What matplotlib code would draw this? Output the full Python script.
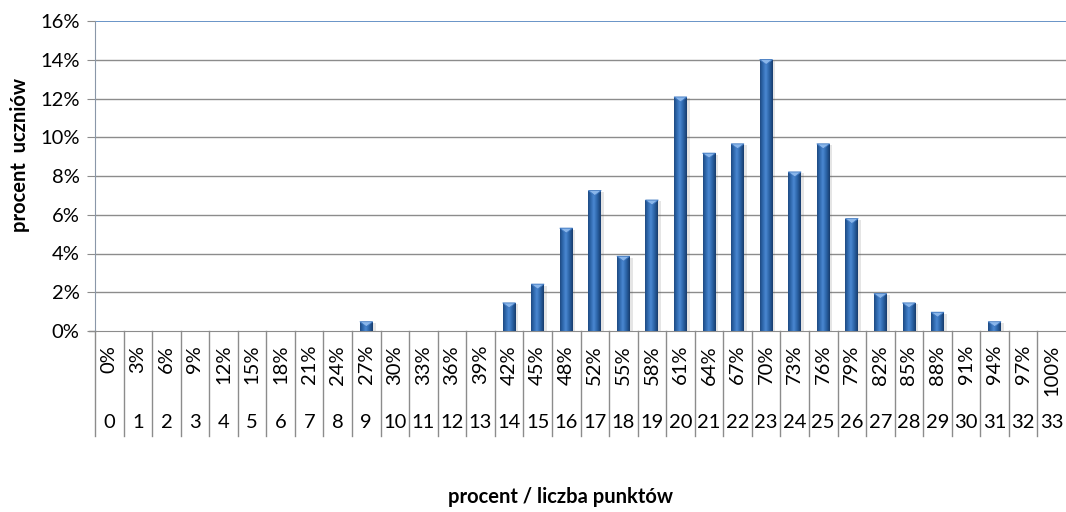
import numpy as np
import matplotlib.pyplot as plt
from matplotlib.patches import Polygon
import matplotlib.patheffects as pe

plt.rcParams['font.family'] = ['Lato', 'DejaVu Sans']

# ── Data ───────────────────────────────────────────────────────
points = list(range(34))
pct_labels = ["0%", "3%", "6%", "9%", "12%", "15%", "18%", "21%", "24%", "27%",
              "30%", "33%", "36%", "39%", "42%", "45%", "48%", "52%", "55%", "58%",
              "61%", "64%", "67%", "70%", "73%", "76%", "79%", "82%", "85%", "88%",
              "91%", "94%", "97%", "100%"]
# share of students (%) for each score
share = [0, 0, 0, 0, 0, 0, 0, 0, 0, 0.48,
         0, 0, 0, 0, 1.45, 2.42, 5.31, 7.25, 3.86, 6.76,
         12.08, 9.18, 9.66, 14.01, 8.21, 9.66, 5.80, 1.93, 1.45, 0.97,
         0, 0.48, 0, 0]
yticks = [0, 2, 4, 6, 8, 10, 12, 14, 16]

FS = 14.5

# ── Figure ─────────────────────────────────────────────────────
W, H = 1066, 512
fig = plt.figure(figsize=(W / 100, H / 100), dpi=100)
ax_l, ax_r, ax_t, ax_b = 95, 1066, 21, 331
ax = fig.add_axes([ax_l / W, 1 - ax_b / H, (ax_r - ax_l) / W, (ax_b - ax_t) / H])

ax.set_xlim(-0.5, len(points) - 0.5)
ax.set_ylim(0, 16)

# gridlines
for y in yticks[1:-1]:
    ax.axhline(y, color='#8c8c8c', lw=1.0, zorder=0)
ax.axhline(16, color='#4f81bd', lw=1.2, zorder=0)

# bars with a horizontal gradient
bw = 0.45
grad = np.linspace(0, 1, 64)
shade = 1 - 0.55 * np.abs(grad - 0.45) * 2
cmap = plt.matplotlib.colors.LinearSegmentedColormap.from_list(
    "bar", ["#173d6e", "#2b63a6", "#4a88d2"])
px_per_unit = (ax_b - ax_t) / 16.0
tri_h = 5.0 / px_per_unit

for x, v in zip(points, share):
    if v <= 0:
        continue
    b = ax.bar(x, v, width=bw, color='#2b63a6', zorder=2,
               path_effects=[pe.SimplePatchShadow(offset=(2, -1), alpha=0.15,
                                                  shadow_rgbFace='#555555'),
                             pe.Normal()])[0]
    im = ax.imshow(shade[np.newaxis, :], cmap=cmap, vmin=0.4, vmax=1.0,
                   extent=(x - bw / 2, x + bw / 2, 0, v), aspect='auto', zorder=3)
    im.set_clip_path(b)
    tri = Polygon([(x - bw / 2, v), (x + bw / 2, v), (x, v - tri_h)],
                  closed=True, facecolor='#8ab6ea', edgecolor='#3f78c0',
                  lw=0.6, zorder=4)
    ax.add_patch(tri)

ax.set_aspect('auto')
ax.set_xlim(-0.5, len(points) - 0.5)
ax.set_ylim(0, 16)

# axes styling
for s in ['top', 'right']:
    ax.spines[s].set_visible(False)
ax.spines['left'].set_color('#8a97a8')
ax.spines['bottom'].set_color('#8c8c8c')
ax.set_yticks(yticks)
ax.set_yticklabels([f"{t}%" for t in yticks], fontsize=FS)
ax.tick_params(axis='y', direction='out', length=6, color='#8c8c8c', pad=5)
ax.set_xticks([])

# multi-level category labels
trans = ax.get_xaxis_transform()
ah = ax_b - ax_t
for x, lab, n in zip(points, pct_labels, points):
    ax.text(x, -(345 - ax_b) / ah, lab, rotation=90, ha='center', va='top',
            fontsize=FS, transform=trans, clip_on=False)
    ax.text(x, -(422 - ax_b) / ah, str(n), ha='center', va='center',
            fontsize=FS, transform=trans, clip_on=False)
for k in range(len(points)):
    ax.plot([k - 0.5, k - 0.5], [0, -(436 - ax_b) / ah], color='#8c8c8c',
            lw=1.0, transform=trans, clip_on=False)
# small tick left of the 0% line
ax.plot([-0.5 - 6 / 28.55, -0.5], [0, 0], color='#8c8c8c', lw=1.0,
        transform=trans, clip_on=False)

fig.text(20 / W, 1 - 155 / H, "procent  uczniów", rotation=90, ha='center',
         va='center', fontsize=FS, fontweight='bold')
fig.text(560 / W, 1 - 497 / H, "procent / liczba punktów", ha='center',
         va='center', fontsize=FS, fontweight='bold')

fig.savefig("out.png", dpi=100)
